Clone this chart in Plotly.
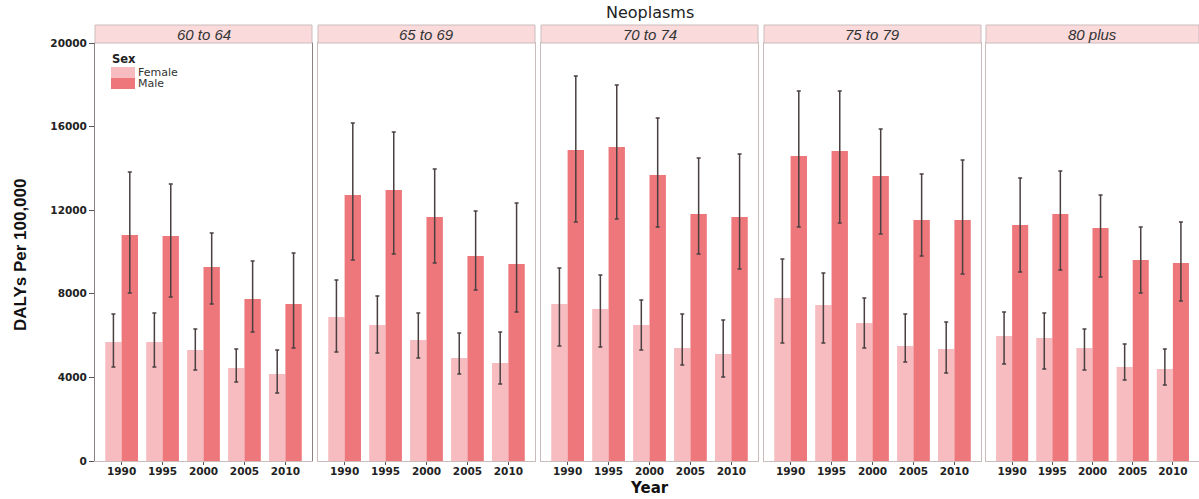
import plotly.graph_objects as go

W, H = 1199, 499

years = ["1990", "1995", "2000", "2005", "2010"]
age_groups = ["60 to 64", "65 to 69", "70 to 74", "75 to 79", "80 plus"]

# DALYs per 100,000, one list per age group
female = [
    [5690, 5690, 5310, 4450, 4160],
    [6890, 6510, 5790, 4930, 4690],
    [7510, 7270, 6510, 5410, 5120],
    [7800, 7460, 6600, 5500, 5360],
    [5980, 5890, 5410, 4500, 4400],
]
female_hi = [
    [7030, 7080, 6320, 5360, 5310],
    [8660, 7900, 7080, 6120, 6170],
    [9240, 8900, 7700, 7030, 6750],
    [9670, 9000, 7800, 7030, 6650],
    [7130, 7080, 6320, 5600, 5360],
]
female_lo = [
    [4500, 4500, 4350, 3780, 3250],
    [5220, 5170, 4930, 4160, 3680],
    [5500, 5450, 5310, 4590, 4020],
    [5650, 5650, 5410, 4740, 4210],
    [4640, 4400, 4350, 3880, 3640],
]
male = [
    [10810, 10770, 9280, 7750, 7510],
    [12730, 12970, 11680, 9810, 9430],
    [14880, 15020, 13680, 11820, 11680],
    [14590, 14830, 13640, 11530, 11530],
    [11290, 11820, 11150, 9620, 9470],
]
male_hi = [
    [13830, 13250, 10910, 9570, 9950],
    [16170, 15740, 13970, 11960, 12350],
    [18420, 17990, 16410, 14500, 14690],
    [17700, 17700, 15890, 13730, 14400],
    [13540, 13880, 12730, 11200, 11440],
]
male_lo = [
    [8040, 7850, 7510, 6170, 5410],
    [9620, 9900, 9470, 8180, 7130],
    [11440, 11580, 11200, 9900, 9190],
    [11200, 11390, 10860, 9810, 8950],
    [9040, 9140, 8800, 8040, 7660],
]

y_ticks = [0, 4000, 8000, 12000, 16000, 20000]
y_ticktext = ["0", "4000", "8000", "12000", "16000", "20000"]

FEMALE_COL = "#f7bcc0"
MALE_COL = "#ee777c"
FRAME_COL = "#cbbcbc"

# panel positions in pixels
panel_x = [(95, 312), (318, 535), (541, 758), (764, 981), (986, 1199)]
plot_top, plot_bot = 43, 461
strip_top = 25

fig = go.Figure()

tick_font = dict(family="DejaVu Sans, Liberation Sans", size=10.5, color="#222222", weight="bold")


def px_note(text, x, y, size, xanchor="center", **kw):
    # annotation placed by pixel position (from the top-left corner)
    fig.add_annotation(text=text, xref="paper", yref="paper", x=x / W, y=(H - y) / H,
                       xanchor=xanchor, yanchor="middle", showarrow=False,
                       font=dict(family=kw.pop("family", "DejaVu Sans, Liberation Sans"), size=size,
                                 color=kw.pop("color", "#222222")), **kw)


for i, grp in enumerate(age_groups):
    n = "" if i == 0 else str(i + 1)
    xa, ya = "x" + n, "y" + n
    for vals, hi, lo, col, name in [
        (female[i], female_hi[i], female_lo[i], FEMALE_COL, "Female"),
        (male[i], male_hi[i], male_lo[i], MALE_COL, "Male"),
    ]:
        fig.add_trace(go.Bar(
            x=years, y=vals, name=name, marker=dict(color=col, line=dict(width=0)),
            xaxis=xa, yaxis=ya, showlegend=False,
            error_y=dict(type="data", symmetric=False,
                         array=[h - v for h, v in zip(hi, vals)],
                         arrayminus=[v - l for v, l in zip(vals, lo)],
                         color="#4a4040", thickness=1.5, width=2),
        ))
    x0, x1 = panel_x[i]
    fig.layout["xaxis" + n] = dict(
        domain=[x0 / W, x1 / W], anchor=ya, type="category", range=[-0.65, 4.65],
        showline=True, mirror=True, linecolor=FRAME_COL, linewidth=1,
        ticks="outside", ticklen=3, tickcolor="#555555", tickfont=tick_font,
        ticklabelstandoff=-3,
        showgrid=False, zeroline=False, fixedrange=True, automargin=False,
    )
    fig.layout["yaxis" + n] = dict(
        domain=[(H - plot_bot) / H, (H - plot_top) / H], anchor=xa,
        range=[0, 20000], tickvals=y_ticks, ticktext=y_ticktext,
        showticklabels=(i == 0), ticks="outside" if i == 0 else "",
        ticklen=5, tickcolor="#555555", tickfont=tick_font,
        showline=True, mirror=True, linewidth=1,
        linecolor="#8a8080" if i == 0 else FRAME_COL,
        showgrid=False, zeroline=False, fixedrange=True, automargin=False,
    )
    # strip
    fig.add_shape(type="rect", xref="paper", yref="paper",
                  x0=x0 / W, x1=x1 / W, y0=(H - plot_top) / H, y1=(H - strip_top) / H,
                  fillcolor="#fadadb", line=dict(color=FRAME_COL, width=1))
    px_note("<i>" + grp + "</i>", (x0 + x1) / 2, (plot_top + strip_top) / 2 + 0.5, 15,
            color="#333333", family="Liberation Sans, Arial")

# legend drawn inside the first panel
px_note("<b>Sex</b>", 110, 59, 11.5, xanchor="left")
for k, (lab, col) in enumerate([("Female", FEMALE_COL), ("Male", MALE_COL)]):
    top = 67 + k * 11
    fig.add_shape(type="rect", xref="paper", yref="paper",
                  x0=111 / W, x1=135 / W, y0=(H - top - 11) / H, y1=(H - top) / H,
                  fillcolor=col, line=dict(width=0))
    px_note(lab, 136, top + 5.5, 11, xanchor="left", color="#333333", height=11)

px_note("Neoplasms", 650, 12, 16)
px_note("<b>Year</b>", 650, 488, 15, color="#111111")
px_note("<b>DALYs Per 100,000</b>", 21, 255, 17, textangle=-90, color="#111111",
        family="Liberation Sans Narrow, Liberation Sans, Arial")

fig.update_layout(
    width=W, height=H, barmode="group", bargap=0.2, bargroupgap=0,
    margin=dict(l=0, r=0, t=0, b=0),
    paper_bgcolor="white", plot_bgcolor="white",
)

# the page body has a default 8px margin; drop it so the figure fills the window
fig.write_html("out.html", config={"displayModeBar": False},
               post_script="document.body.style.margin='0px';document.body.style.overflow='hidden';")
